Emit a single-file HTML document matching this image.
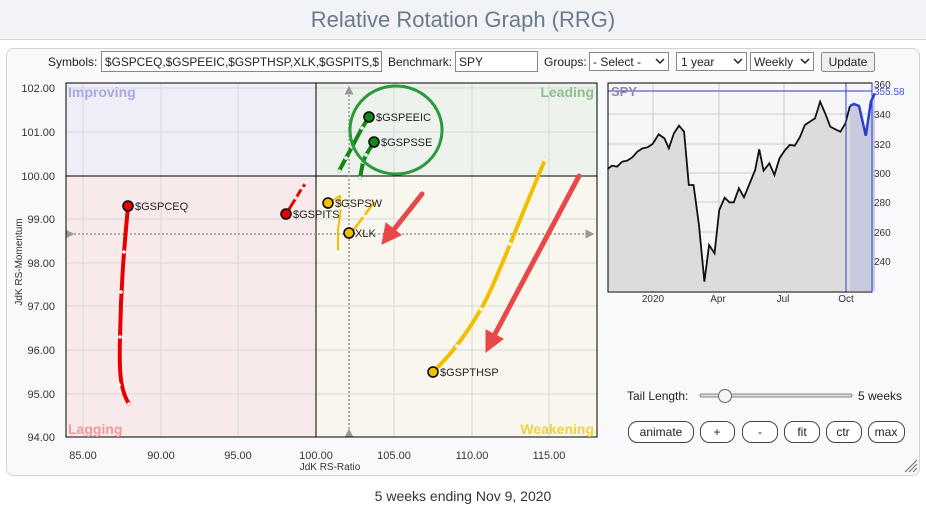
<!DOCTYPE html>
<html><head><meta charset="utf-8"><style>
html,body{margin:0;padding:0;background:#fff;}
svg{display:block;font-family:"Liberation Sans",Arial,sans-serif;}
</style></head><body>
<svg width="926" height="508" viewBox="0 0 926 508" xmlns="http://www.w3.org/2000/svg">
<defs>
<marker id="ah" markerWidth="6" markerHeight="6" refX="3" refY="3" orient="auto"><path d="M0,0 L6,3 L0,6 z" fill="#999"/></marker>
<clipPath id="cs"><rect x="102" y="52" width="279" height="19"/></clipPath>
</defs>
<rect x="0" y="0" width="926" height="40" fill="#f1f3f6"/>
<line x1="0" y1="39.5" x2="926" y2="39.5" stroke="#d5d9df"/>
<text x="463" y="27" font-size="22" fill="#6b7a8c" text-anchor="middle">Relative Rotation Graph (RRG)</text>
<rect x="6.5" y="48.5" width="913" height="427" rx="7" fill="#f9f9fb" stroke="#cfd2d6"/>
<g font-size="12" fill="#222">
<text x="48" y="66">Symbols:</text>
<rect x="101.5" y="51.5" width="280" height="20" fill="#fff" stroke="#888"/>
<text x="105" y="66" clip-path="url(#cs)" textLength="274" lengthAdjust="spacingAndGlyphs">$GSPCEQ,$GSPEEIC,$GSPTHSP,XLK,$GSPITS,$</text>
<text x="388" y="66">Benchmark:</text>
<rect x="455.5" y="51.5" width="82" height="20" fill="#fff" stroke="#888"/>
<text x="459" y="66">SPY</text>
<text x="544" y="66">Groups:</text>
<rect x="589.5" y="52.5" width="79" height="18" fill="#fff" stroke="#888"/>
<text x="593" y="66">- Select -</text><path d="M656,59 l4,4 l4,-4" stroke="#222" fill="none" stroke-width="1.5"/>
<rect x="676.5" y="52.5" width="70" height="18" fill="#fff" stroke="#888"/>
<text x="681" y="66">1 year</text><path d="M734,59 l4,4 l4,-4" stroke="#222" fill="none" stroke-width="1.5"/>
<rect x="750.5" y="52.5" width="63" height="18" fill="#fff" stroke="#888"/>
<text x="754" y="66">Weekly</text><path d="M801,59 l4,4 l4,-4" stroke="#222" fill="none" stroke-width="1.5"/>
<rect x="821.5" y="52.5" width="53" height="19" rx="2" fill="#efefef" stroke="#888"/>
<text x="848" y="66" text-anchor="middle">Update</text>
</g>
<rect x="66" y="83" width="250" height="93" fill="#eeeef9"/>
<rect x="316" y="83" width="281" height="93" fill="#edf3ec"/>
<rect x="66" y="176" width="250" height="261" fill="#f8eaea"/>
<rect x="316" y="176" width="281" height="261" fill="#f9f7ed"/>
<g stroke="#d8d8d8" stroke-width="1">
<line x1="83" y1="83" x2="83" y2="437"/><line x1="161" y1="83" x2="161" y2="437"/><line x1="238" y1="83" x2="238" y2="437"/>
<line x1="394" y1="83" x2="394" y2="437"/><line x1="472" y1="83" x2="472" y2="437"/><line x1="549" y1="83" x2="549" y2="437"/>
<line x1="66" y1="88" x2="597" y2="88"/><line x1="66" y1="132" x2="597" y2="132"/><line x1="66" y1="219" x2="597" y2="219"/>
<line x1="66" y1="263" x2="597" y2="263"/><line x1="66" y1="306" x2="597" y2="306"/><line x1="66" y1="350" x2="597" y2="350"/>
<line x1="66" y1="394" x2="597" y2="394"/>
</g>
<line x1="316" y1="83" x2="316" y2="437" stroke="#000"/>
<line x1="66" y1="176" x2="597" y2="176" stroke="#000"/>
<line x1="349" y1="433" x2="349" y2="90" stroke="#999" stroke-width="1.5" stroke-dasharray="2,2" marker-end="url(#ah)" marker-start="url(#ah)"/>
<line x1="70" y1="234" x2="590" y2="234" stroke="#999" stroke-width="1.5" stroke-dasharray="2,2" marker-end="url(#ah)" marker-start="url(#ah)"/>
<rect x="66" y="83" width="531" height="354" fill="none" stroke="#000"/>
<g font-size="14" font-weight="bold">
<text x="68" y="97" fill="#a8a8e2">Improving</text>
<text x="594" y="97" fill="#8cc08c" text-anchor="end">Leading</text>
<text x="68" y="434" fill="#ee9a9a">Lagging</text>
<text x="594" y="434" fill="#f0d040" text-anchor="end">Weakening</text>
</g>
<g font-size="11" fill="#333" text-anchor="end">
<text x="55" y="92">102.00</text><text x="55" y="136">101.00</text><text x="55" y="180">100.00</text>
<text x="55" y="223">99.00</text><text x="55" y="267">98.00</text><text x="55" y="310">97.00</text>
<text x="55" y="354">96.00</text><text x="55" y="398">95.00</text><text x="55" y="441">94.00</text>
</g>
<g font-size="11" fill="#333" text-anchor="middle">
<text x="83" y="459">85.00</text><text x="161" y="459">90.00</text><text x="238" y="459">95.00</text>
<text x="316" y="459">100.00</text><text x="394" y="459">105.00</text><text x="472" y="459">110.00</text><text x="549" y="459">115.00</text>
<text x="330" y="470" font-size="10">JdK RS-Ratio</text>
<text transform="translate(22,262) rotate(-90)" font-size="10">JdK RS-Momentum</text>
</g>
<g fill="none" stroke-linecap="round" stroke-linejoin="round">
<path d="M128,206 C125,240 121,280 120,337 C119,370 120,390 129,404" stroke="#e80000" stroke-width="4"/>
<path d="M286,214 L296,198 L302,188 L306,183" stroke="#e80000" stroke-width="3"/>
<path d="M369,117 L362,128 L352,147 L346,158 L339,171" stroke="#118811" stroke-width="4"/>
<path d="M374,142 L366,155 L363,162 L360,178" stroke="#118811" stroke-width="4"/>
<path d="M328,203 L340,196 L341,208 L338,230 L338,252" stroke="#f0c000" stroke-width="2"/>
<path d="M349,233 L355,228 L364,216 L372,205 L376,201" stroke="#f0c000" stroke-width="2.5"/>
<path d="M433,372 C445,360 460,345 481,309 C495,285 515,230 545,160" stroke="#f0c000" stroke-width="4"/>
</g>
<g fill="#fff" stroke="none">
<circle cx="124" cy="252" r="1.8"/><circle cx="121" cy="292" r="1.8"/><circle cx="120" cy="337" r="1.8"/><circle cx="119" cy="385" r="1.8"/><circle cx="129" cy="404" r="1.8"/>
<circle cx="296" cy="198" r="1.8"/><circle cx="302" cy="188" r="1.8"/><circle cx="306" cy="183" r="1.8"/>
<circle cx="362" cy="128" r="1.8"/><circle cx="352" cy="147" r="1.8"/><circle cx="346" cy="158" r="1.8"/><circle cx="339" cy="171" r="1.8"/>
<circle cx="366" cy="155" r="1.8"/><circle cx="363" cy="162" r="1.8"/><circle cx="360" cy="178" r="1.8"/>
<circle cx="457" cy="346" r="1.8"/><circle cx="481" cy="309" r="1.8"/><circle cx="510" cy="244" r="1.8"/><circle cx="545" cy="160" r="1.8"/>
<circle cx="364" cy="216" r="1.5"/><circle cx="376" cy="201" r="1.5"/><circle cx="341" cy="208" r="1.5"/><circle cx="338" cy="252" r="1.5"/>
</g>
<g stroke="#000" stroke-width="1.5">
<circle cx="128" cy="206" r="5" fill="#e80000"/><circle cx="286" cy="214" r="5" fill="#e80000"/>
<circle cx="369" cy="117" r="5" fill="#118811"/><circle cx="374" cy="142" r="5" fill="#118811"/>
<circle cx="328" cy="203" r="5" fill="#f0c000"/><circle cx="349" cy="233" r="5" fill="#f0c000"/>
<circle cx="433" cy="372" r="5" fill="#f0c000"/>
</g>
<g font-size="11" fill="#222">
<text x="135" y="210">$GSPCEQ</text><text x="293" y="218">$GSPITS</text>
<text x="376" y="121">$GSPEEIC</text><text x="381" y="146">$GSPSSE</text>
<text x="335" y="207">$GSPSW</text><text x="355" y="237">XLK</text>
<text x="440" y="376">$GSPTHSP</text>
</g>
<ellipse cx="396" cy="130" rx="46" ry="44" fill="none" stroke="#2a9a3a" stroke-width="3"/>
<g stroke="#e84848" stroke-width="5" stroke-linecap="round" fill="#e84848">
<line x1="422" y1="194" x2="392" y2="232"/><polygon points="382,244 386,223 401,235" stroke-width="1"/>
<line x1="579" y1="176" x2="495" y2="334"/><polygon points="486,352 486,330 503,339" stroke-width="1"/>
</g>
<g>
<rect x="608" y="83" width="264" height="209" fill="#f6f6f6"/>
<g stroke="#ccc"><line x1="653" y1="83" x2="653" y2="292"/><line x1="719" y1="83" x2="719" y2="292"/><line x1="784" y1="83" x2="784" y2="292"/>
<line x1="608" y1="114" x2="872" y2="114"/><line x1="608" y1="144" x2="872" y2="144"/><line x1="608" y1="173" x2="872" y2="173"/>
<line x1="608" y1="202" x2="872" y2="202"/><line x1="608" y1="232" x2="872" y2="232"/><line x1="608" y1="261" x2="872" y2="261"/></g>
<g transform="translate(590,70) scale(0.3384,0.3333)">
<path d="M52,297 L65,287 L80,290 L95,275 L110,272 L125,262 L140,245 L155,235 L170,232 L185,222 L203,193 L220,205 L233,235 L248,190 L263,167 L278,185 L292,345 L306,345 L322,465 L338,635 L352,525 L368,550 L382,420 L398,383 L412,397 L425,397 L440,355 L455,382 L470,345 L488,300 L500,238 L513,302 L530,280 L545,315 L560,265 L575,242 L590,225 L605,227 L620,202 L635,165 L650,155 L665,145 L680,95 L695,130 L710,170 L725,178 L740,185 L755,160 L768,108 L768,663 L52,663 Z" fill="#dcdcdc"/>
<path d="M768,108 L780,102 L795,108 L815,197 L830,95 L842,70 L842,663 L768,663 Z" fill="#c8cade"/>
<path d="M52,297 L65,287 L80,290 L95,275 L110,272 L125,262 L140,245 L155,235 L170,232 L185,222 L203,193 L220,205 L233,235 L248,190 L263,167 L278,185 L292,345 L306,345 L322,465 L338,635 L352,525 L368,550 L382,420 L398,383 L412,397 L425,397 L440,355 L455,382 L470,345 L488,300 L500,238 L513,302 L530,280 L545,315 L560,265 L575,242 L590,225 L605,227 L620,202 L635,165 L650,155 L665,145 L680,95 L695,130 L710,170 L725,178 L740,185 L755,160 L768,108" fill="none" stroke="#111" stroke-width="1.8" vector-effect="non-scaling-stroke"/>
<path d="M768,108 L780,102 L795,108 L815,197 L830,95 L842,70" fill="none" stroke="#2a3fd0" stroke-width="2.5" vector-effect="non-scaling-stroke"/>
</g>
<line x1="608" y1="91" x2="872" y2="91" stroke="#2a3fd0"/>
<line x1="846" y1="83" x2="846" y2="292" stroke="#2a3fd0"/>
<rect x="608" y="83" width="264" height="209" fill="none" stroke="#000"/>
<line x1="872" y1="83" x2="872" y2="292" stroke="#2a3fd0"/>
<text x="611" y="96" font-size="13" font-weight="bold" fill="#8a8aa8">SPY</text>
<g font-size="10" fill="#333">
<text x="874" y="88">360</text><text x="874" y="95" fill="#4455cc">355.58</text>
<text x="874" y="118">340</text><text x="874" y="148">320</text><text x="874" y="177">300</text>
<text x="874" y="206">280</text><text x="874" y="236">260</text><text x="874" y="265">240</text>
</g>
<g font-size="10" fill="#333" text-anchor="middle">
<text x="653" y="302">2020</text><text x="718" y="302">Apr</text><text x="783" y="302">Jul</text><text x="846" y="302">Oct</text>
</g>
</g>
<text x="627" y="400" font-size="12" fill="#222">Tail Length:</text>
<rect x="700" y="394" width="152" height="3" rx="1.5" fill="#ddd" stroke="#888"/>
<circle cx="725" cy="396" r="6.5" fill="#f4f4f4" stroke="#666"/>
<text x="858" y="400" font-size="12" fill="#222">5 weeks</text>
<g font-size="12" fill="#222" text-anchor="middle">
<rect x="628.5" y="421.5" width="65" height="21" rx="9" fill="#fff" stroke="#444"/><text x="661" y="436">animate</text>
<rect x="700.5" y="421.5" width="34" height="21" rx="9" fill="#fff" stroke="#444"/><text x="717" y="436">+</text>
<rect x="742.5" y="421.5" width="35" height="21" rx="9" fill="#fff" stroke="#444"/><text x="760" y="436">-</text>
<rect x="784.5" y="421.5" width="35" height="21" rx="9" fill="#fff" stroke="#444"/><text x="802" y="436">fit</text>
<rect x="826.5" y="421.5" width="35" height="21" rx="9" fill="#fff" stroke="#444"/><text x="843" y="436">ctr</text>
<rect x="868.5" y="421.5" width="36" height="21" rx="9" fill="#fff" stroke="#444"/><text x="886" y="436">max</text>
</g>
<g stroke="#777" stroke-width="1.2"><line x1="905" y1="472" x2="917" y2="460"/><line x1="909" y1="472" x2="917" y2="464"/><line x1="913" y1="472" x2="917" y2="468"/></g>
<text x="463" y="501" font-size="14" fill="#333" text-anchor="middle">5 weeks ending Nov 9, 2020</text>
</svg>
</body></html>
